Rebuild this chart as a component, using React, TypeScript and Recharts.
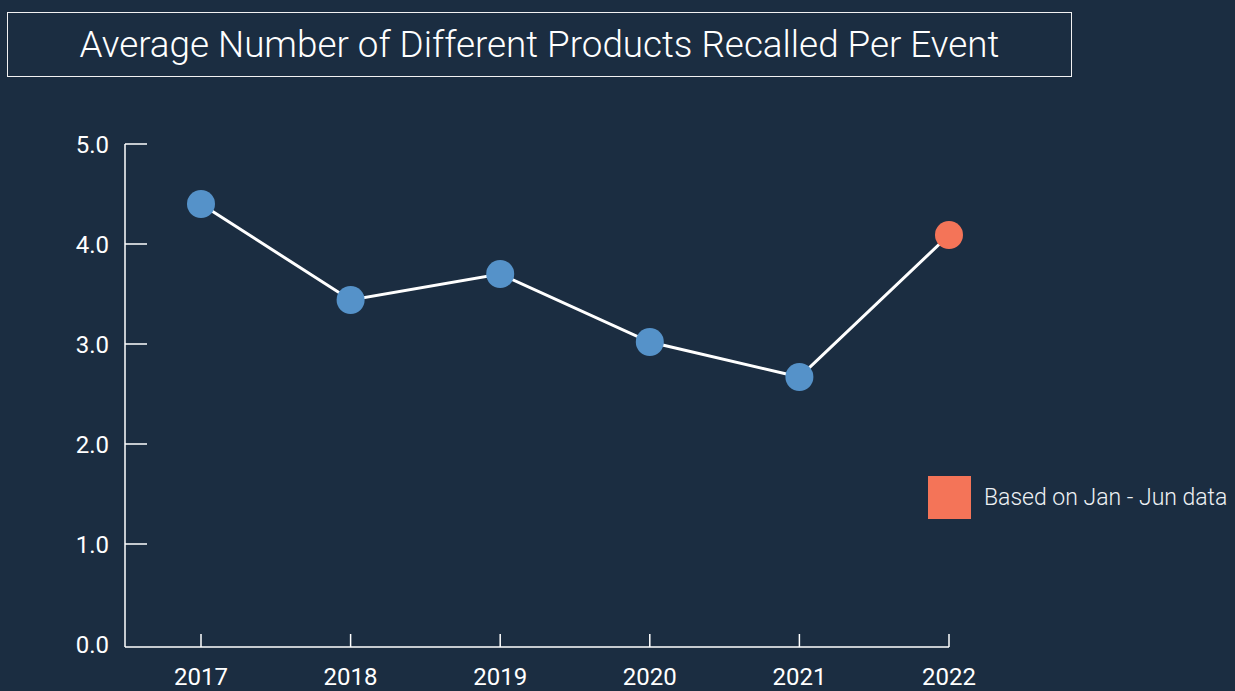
import { LineChart, Line, XAxis, YAxis } from "recharts";

const years = ["2017", "2018", "2019", "2020", "2021", "2022"];
const avgProducts = [4.4, 3.44, 3.7, 3.02, 2.67, 4.09];
const partialYears = ["2022"];
const yTicks = [0, 1, 2, 3, 4, 5];

const chartData = years.map((year, i) => ({ year, value: avgProducts[i] }));

const BG = "#1b2d41";
const BLUE = "#5592c9";
const ORANGE = "#f47458";
const INK = "#ffffff";

type TickProps = {
  x?: number;
  y?: number;
  payload?: { value: string | number };
};

function YTick({ x = 0, y = 0, payload }: TickProps) {
  // text sits 16px left of the axis line; the tick mark points inward
  const value = Number(payload?.value);
  return (
    <g>
      {value !== 0 && (
        <line x1={x + 16} x2={x + 38} y1={y} y2={y} stroke={INK} strokeWidth={1.5} />
      )}
      <text
        x={x}
        y={y}
        dy="0.355em"
        textAnchor="end"
        fill={INK}
        fontSize={24}
        fontFamily="Roboto, sans-serif"
      >
        {value.toFixed(1)}
      </text>
    </g>
  );
}

function XTick({ x = 0, y = 0, payload }: TickProps) {
  return (
    <g>
      <line x1={x} x2={x} y1={y - 21} y2={y - 34} stroke={INK} strokeWidth={1.5} />
      <text
        x={x}
        y={y}
        dy="0.71em"
        textAnchor="middle"
        fill={INK}
        fontSize={24}
        fontFamily="Roboto, sans-serif"
      >
        {payload?.value}
      </text>
    </g>
  );
}

type DotProps = {
  cx?: number;
  cy?: number;
  index?: number;
  payload?: { year: string };
};

function YearDot({ cx, cy, index, payload }: DotProps) {
  if (typeof cx !== "number" || typeof cy !== "number") return null;
  const partial = payload ? partialYears.includes(payload.year) : false;
  return <circle key={index} cx={cx} cy={cy} r={14} fill={partial ? ORANGE : BLUE} />;
}

function PartialLegend() {
  return (
    <div
      style={{
        position: "absolute",
        left: 928,
        top: 476,
        display: "flex",
        alignItems: "center",
      }}
    >
      <div style={{ width: 43, height: 43, background: ORANGE }} />
      <span
        style={{
          marginLeft: 13,
          color: "#eef1f4",
          fontFamily: "Roboto, sans-serif",
          fontWeight: 300,
          fontSize: 23,
          whiteSpace: "nowrap",
        }}
      >
        Based on Jan - Jun data
      </span>
    </div>
  );
}

export default function App() {
  return (
    <div
      style={{
        position: "fixed",
        left: 0,
        top: 0,
        width: 1235,
        height: 691,
        background: BG,
        overflow: "hidden",
      }}
    >
      <div
        style={{
          position: "absolute",
          left: 7,
          top: 12,
          width: 1063,
          height: 63,
          border: "1.5px solid #f2f2f2",
          display: "flex",
          alignItems: "center",
          justifyContent: "center",
          color: INK,
          fontFamily: "Roboto, sans-serif",
          fontWeight: 300,
          fontSize: 36.8,
          whiteSpace: "nowrap",
        }}
      >
        Average Number of Different Products Recalled Per Event
      </div>
      <LineChart
        width={1235}
        height={691}
        data={chartData}
        margin={{ top: 144, right: 286, bottom: 0, left: 0 }}
        style={{ position: "absolute", left: 0, top: 0 }}
      >
        <XAxis
          dataKey="year"
          height={44}
          padding={{ left: 76, right: 0 }}
          axisLine={{ stroke: INK, strokeWidth: 1.5 }}
          tickLine={false}
          tickSize={0}
          tickMargin={21}
          tick={<XTick />}
          interval={0}
        />
        <YAxis
          width={125}
          domain={[0, 5]}
          ticks={yTicks}
          padding={{ top: 0, bottom: 3 }}
          axisLine={{ stroke: INK, strokeWidth: 1.5 }}
          tickLine={false}
          tickSize={0}
          tickMargin={16}
          tick={<YTick />}
          interval={0}
        />
        <Line
          dataKey="value"
          stroke={INK}
          strokeWidth={3}
          dot={(props: DotProps) => <YearDot {...props} />}
          activeDot={false}
          isAnimationActive={false}
        />
      </LineChart>
      <PartialLegend />
    </div>
  );
}
